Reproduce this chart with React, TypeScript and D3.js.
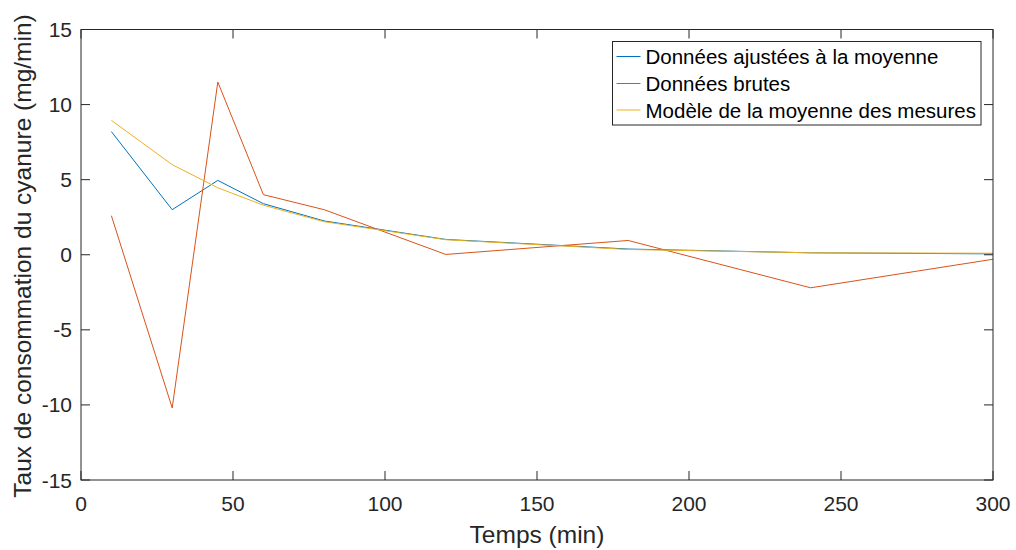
import React from "react";
import * as d3 from "d3";

const time = [10, 30, 45, 60, 80, 120, 180, 240, 300];
const adjusted = [8.2, 3.0, 4.95, 3.4, 2.25, 1.02, 0.38, 0.13, 0.06];
const raw = [2.6, -10.2, 11.5, 4.0, 3.0, 0.02, 0.95, -2.2, -0.3];
const model = [8.95, 6.0, 4.46, 3.3, 2.2, 1.0, 0.35, 0.13, 0.1];
const xTicks = [0, 50, 100, 150, 200, 250, 300];
const yTicks = [-15, -10, -5, 0, 5, 10, 15];
const seriesNames = [
  "Données ajustées à la moyenne",
  "Données brutes",
  "Modèle de la moyenne des mesures",
];
const colors = ["#0072BD", "#D95319", "#EDB120"];

export default function App() {
  const W = 1016, H = 550;
  const L = 81, R = 993, T = 29.5, B = 480;
  const x = d3.scaleLinear().domain([0, 300]).range([L, R]);
  const y = d3.scaleLinear().domain([-15, 15]).range([B, T]);
  const line = d3
    .line<[number, number]>()
    .x((d) => x(d[0]))
    .y((d) => y(d[1]));
  const series = [adjusted, raw, model];
  const axisColor = "#262626";
  const font = "'Liberation Sans', Arial, Helvetica, sans-serif";
  const tickLen = 9;
  const legX = 612.5, legY = 41.5, legW = 368.5, legH = 83.5;
  const rowY = [56.5, 83.5, 110];
  return (
    <svg
      width={W}
      height={H}
      style={{ position: "absolute", left: 0, top: 0, background: "#fff" }}
      fontFamily={font}
    >
      <rect x={0} y={0} width={W} height={H} fill="#fff" />
      {series.map((s, i) => (
        <path
          key={i}
          d={line(time.map((t, j) => [t, s[j]]) as [number, number][]) || ""}
          fill="none"
          stroke={colors[i]}
          strokeWidth={1}
        />
      ))}
      {xTicks.map((t) => (
        <g key={"xt" + t}>
          <line x1={x(t)} x2={x(t)} y1={B} y2={B - tickLen} stroke={axisColor} strokeWidth={1} />
          <line x1={x(t)} x2={x(t)} y1={T} y2={T + tickLen} stroke={axisColor} strokeWidth={1} />
          <text x={x(t)} y={511} textAnchor="middle" fontSize={21} fill={axisColor}>
            {t}
          </text>
        </g>
      ))}
      {yTicks.map((t) => (
        <g key={"yt" + t}>
          <line x1={L} x2={L + tickLen} y1={y(t)} y2={y(t)} stroke={axisColor} strokeWidth={1} />
          <line x1={R} x2={R - tickLen} y1={y(t)} y2={y(t)} stroke={axisColor} strokeWidth={1} />
          <text x={72} y={y(t) + 7.5} textAnchor="end" fontSize={21} fill={axisColor}>
            {t}
          </text>
        </g>
      ))}
      <rect x={L} y={T} width={R - L} height={B - T} fill="none" stroke={axisColor} strokeWidth={1} />
      <text x={(L + R) / 2} y={543} textAnchor="middle" fontSize={24.5} fill={axisColor}>
        Temps (min)
      </text>
      <text
        transform={`translate(31, 256) rotate(-90)`}
        textAnchor="middle"
        fontSize={24.5}
        fill={axisColor}
      >
        Taux de consommation du cyanure (mg/min)
      </text>
      <rect x={legX} y={legY} width={legW} height={legH} fill="#fff" stroke={axisColor} strokeWidth={1} />
      {seriesNames.map((n, i) => (
        <g key={n}>
          <line x1={616.5} x2={640.5} y1={rowY[i]} y2={rowY[i]} stroke={colors[i]} strokeWidth={1} />
          <text x={645.5} y={rowY[i] + 7.5} fontSize={20.5} fill="#000">
            {n}
          </text>
        </g>
      ))}
    </svg>
  );
}
